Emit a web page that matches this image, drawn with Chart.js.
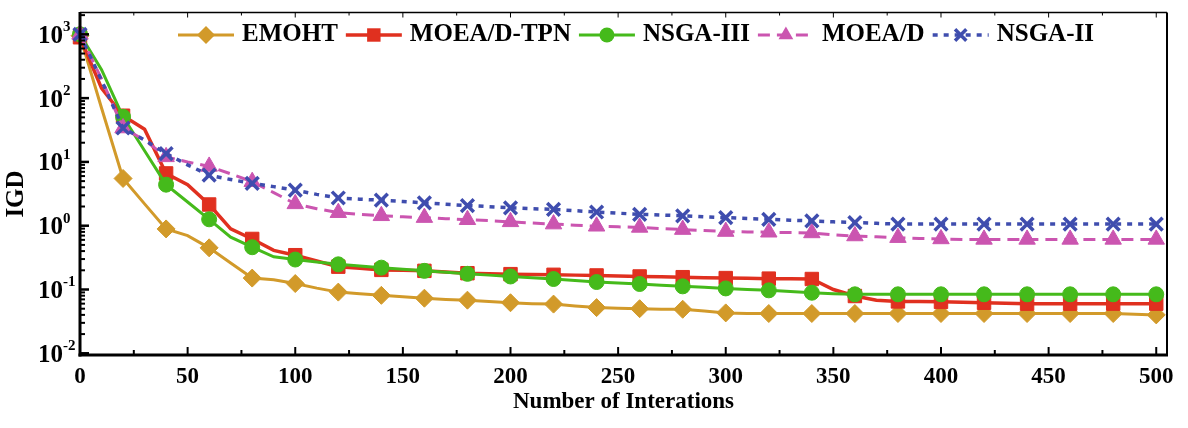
<!DOCTYPE html>
<html><head><meta charset="utf-8">
<script src="https://cdn.jsdelivr.net/npm/chart.js@4/dist/chart.umd.min.js"></script>
<style>html,body{margin:0;padding:0;background:#fff;}canvas{display:block;}</style>
</head><body>
<canvas id="c" width="1188" height="428"></canvas>
<script>
// ---------- data ----------
const iterations = [0,10,20,30,40,50,60,70,80,90,100,110,120,130,140,150,160,170,180,190,200,210,220,230,240,250,260,270,280,290,300,310,320,330,340,350,360,370,380,390,400,410,420,430,440,450,460,470,480,490,500];
const seriesNames = ['EMOHT','MOEA/D-TPN','NSGA-III','MOEA/D','NSGA-II'];
const emoht = [950,70,5.5,2.2,0.89,0.70,0.45,0.26,0.151,0.142,0.124,0.105,0.091,0.086,0.081,0.077,0.073,0.070,0.068,0.065,0.062,0.060,0.059,0.055,0.052,0.051,0.050,0.049,0.049,0.046,0.043,0.042,0.042,0.042,0.042,0.042,0.042,0.042,0.042,0.042,0.042,0.042,0.042,0.042,0.042,0.042,0.042,0.042,0.042,0.041,0.040];
const moeadTpn = [900,143,53,32.5,6.6,4.4,2.15,0.89,0.62,0.41,0.345,0.28,0.228,0.215,0.203,0.200,0.196,0.188,0.180,0.177,0.174,0.172,0.170,0.168,0.166,0.163,0.160,0.158,0.156,0.153,0.151,0.150,0.148,0.147,0.146,0.100,0.079,0.068,0.065,0.065,0.064,0.063,0.062,0.061,0.060,0.060,0.060,0.060,0.060,0.060,0.060];
const nsga3 = [1000,280,51,15,4.4,2.35,1.26,0.66,0.46,0.325,0.295,0.27,0.248,0.233,0.220,0.207,0.196,0.186,0.176,0.168,0.160,0.153,0.146,0.138,0.131,0.126,0.122,0.117,0.112,0.108,0.104,0.100,0.097,0.093,0.089,0.086,0.084,0.084,0.084,0.084,0.084,0.084,0.084,0.084,0.084,0.084,0.084,0.084,0.084,0.084,0.084];
const moead = [1000,200,34,22,12,10,8.5,6.5,4.9,3.3,2.2,1.85,1.6,1.5,1.43,1.38,1.34,1.29,1.24,1.2,1.15,1.1,1.06,1.02,0.98,0.96,0.94,0.9,0.87,0.84,0.81,0.80,0.79,0.78,0.77,0.72,0.69,0.67,0.65,0.63,0.62,0.61,0.61,0.61,0.61,0.61,0.61,0.61,0.61,0.61,0.61];
const nsga2 = [1000,190,34,22,13.5,9,6.2,5.3,4.6,4.1,3.6,3.1,2.72,2.6,2.51,2.4,2.28,2.17,2.07,1.99,1.91,1.85,1.80,1.72,1.64,1.57,1.51,1.47,1.43,1.38,1.34,1.30,1.26,1.22,1.19,1.15,1.12,1.09,1.06,1.06,1.06,1.06,1.06,1.06,1.06,1.06,1.06,1.06,1.06,1.06,1.06];
const xTickLabels = [0,50,100,150,200,250,300,350,400,450,500];
const xMinorTicks = [25,75,125,175,225,275,325,375,425,475];
const yTickExponents = [-2,-1,0,1,2,3];

// ---------- styles ----------
const FONT = '"Liberation Serif","Times New Roman",serif';
const styles = [
  {color:'#D29A2A', point:'rectRot', r:9,   dash:[],     width:3,   pbw:1, lr:9},
  {color:'#E0301F', point:'rect',    r:9.5, dash:[],     width:3.5, pbw:1, lr:9.5},
  {color:'#45BA1B', point:'circle',  r:7.5, dash:[],     width:3,   pbw:1, lr:7.5},
  {color:'#CB55B0', point:'triangle',r:9.5, dash:[12,7], width:3,   pbw:1, lr:8.5},
  {color:'#3F4DAE', point:'crossRot',r:9,   dash:[5,6],  width:3.5, pbw:3.5, lr:8}
];
const seriesValues = [emoht, moeadTpn, nsga3, moead, nsga2];

const datasets = seriesValues.map((vals,i)=>{
  const s = styles[i];
  return {
    label: seriesNames[i],
    data: vals.map((v,j)=>({x:iterations[j], y:v})),
    borderColor: s.color, backgroundColor: s.color,
    pointBackgroundColor: s.color, pointBorderColor: s.color,
    borderWidth: s.width, borderDash: s.dash,
    pointStyle: s.point,
    pointRadius: ctx => (iterations[ctx.dataIndex] % 20 === 0 ? s.r : 0),
    pointHoverRadius: ctx => (iterations[ctx.dataIndex] % 20 === 0 ? s.r : 0),
    pointBorderWidth: s.pbw,
    tension: 0, order: 4 - i, clip: false
  };
});

function drawMarker(ctx, style, x, y, r, color, bw){
  ctx.save();
  ctx.fillStyle = color; ctx.strokeStyle = color; ctx.setLineDash([]);
  ctx.beginPath();
  if (style === 'rectRot'){ ctx.moveTo(x,y-r); ctx.lineTo(x+r,y); ctx.lineTo(x,y+r); ctx.lineTo(x-r,y); ctx.closePath(); ctx.fill(); }
  else if (style === 'rect'){ const s=r*Math.SQRT1_2; ctx.rect(x-s,y-s,2*s,2*s); ctx.fill(); }
  else if (style === 'circle'){ ctx.arc(x,y,r,0,Math.PI*2); ctx.fill(); }
  else if (style === 'triangle'){ ctx.moveTo(x,y-r); ctx.lineTo(x+0.866*r,y+0.5*r); ctx.lineTo(x-0.866*r,y+0.5*r); ctx.closePath(); ctx.fill(); }
  else if (style === 'crossRot'){ const d=r*Math.SQRT1_2; ctx.lineWidth=bw; ctx.moveTo(x-d,y-d); ctx.lineTo(x+d,y+d); ctx.moveTo(x+d,y-d); ctx.lineTo(x-d,y+d); ctx.stroke(); }
  ctx.restore();
}

const framePlugin = {
  id: 'frame',
  afterDatasetsDraw(chart){
    const {ctx, chartArea:a, scales:{x, y}} = chart;
    ctx.save();
    ctx.strokeStyle = '#000'; ctx.fillStyle = '#000'; ctx.setLineDash([]);
    const seg = (x1,y1,x2,y2,w)=>{ ctx.lineWidth=w; ctx.beginPath(); ctx.moveTo(x1,y1); ctx.lineTo(x2,y2); ctx.stroke(); };
    // x ticks (inward)
    xTickLabels.forEach(v=>{ const px=x.getPixelForValue(v); seg(px,a.bottom,px,a.bottom-8,2); seg(px,a.top,px,a.top+5,1); });
    xMinorTicks.forEach(v=>{ const px=x.getPixelForValue(v); seg(px,a.bottom,px,a.bottom-5,2); seg(px,a.top,px,a.top+3,1); });
    // y ticks (inward)
    for (let e=-3; e<=3; e++){
      for (let k=1; k<=9; k++){
        const v = k*Math.pow(10,e);
        if (v < y.min || v > y.max) continue;
        const py = y.getPixelForValue(v);
        seg(a.left, py, a.left + (k===1 ? 9 : 5), py, k===1 ? 2.5 : 2);
      }
    }
    // frame
    seg(a.left, a.top, a.right, a.top, 1.5);
    seg(a.right, a.top, a.right, a.bottom, 2);
    seg(a.left, a.top-0.5, a.left, a.bottom+1.5, 3);
    seg(a.left-1.5, a.bottom, a.right+1, a.bottom, 3);

    // x tick labels
    ctx.font = 'bold 23px ' + FONT;
    ctx.textAlign = 'center'; ctx.textBaseline = 'middle';
    xTickLabels.forEach(v=> ctx.fillText(String(v), x.getPixelForValue(v), a.bottom + 22));
    // y tick labels 10^e
    yTickExponents.forEach(e=>{
      const py = y.getPixelForValue(Math.pow(10,e));
      ctx.font = 'bold 25px ' + FONT; ctx.textAlign = 'right'; ctx.textBaseline = 'middle';
      ctx.fillText('10', 63, py + 2);
      ctx.font = 'bold 15px ' + FONT; ctx.textAlign = 'left';
      ctx.fillText(e < 0 ? '-' + Math.abs(e) : String(e), 63, py - 7);
    });
    // axis titles
    ctx.font = 'bold 23px ' + FONT; ctx.textAlign = 'center'; ctx.textBaseline = 'middle';
    ctx.fillText('Number of Interations', (a.left + a.right)/2, a.bottom + 47);
    ctx.save();
    ctx.translate(17, 194); ctx.rotate(-Math.PI/2);
    ctx.font = 'bold 25px ' + FONT;
    ctx.fillText('IGD', 0, 0);
    ctx.restore();

    // legend
    let cx = 178; const ly = 35;
    ctx.font = 'bold 25px ' + FONT; ctx.textAlign = 'left'; ctx.textBaseline = 'middle';
    seriesNames.forEach((name,i)=>{
      const s = styles[i];
      ctx.save();
      ctx.strokeStyle = s.color; ctx.lineWidth = s.width; ctx.setLineDash(s.dash);
      ctx.beginPath(); ctx.moveTo(cx, ly); ctx.lineTo(cx+56, ly); ctx.stroke();
      ctx.restore();
      drawMarker(ctx, s.point, cx+28, ly, s.lr, s.color, s.pbw);
      ctx.fillStyle = '#000';
      ctx.fillText(name, cx+64, ly);
      cx = cx + 64 + ctx.measureText(name).width + 8;
    });
    ctx.restore();
  }
};

new Chart(document.getElementById('c'), {
  type: 'line',
  data: { datasets },
  options: {
    responsive: false, animation: false, devicePixelRatio: 1,
    layout: { padding: { left: 80, right: 21, top: 6, bottom: 73 } },
    plugins: { legend: { display: false }, tooltip: { enabled: false } },
    events: [],
    scales: {
      x: { type: 'linear', min: 0, max: 505, display: false },
      y: { type: 'logarithmic', min: 0.0094, max: 2200, display: false }
    }
  },
  plugins: [framePlugin]
});
</script>
</body></html>
